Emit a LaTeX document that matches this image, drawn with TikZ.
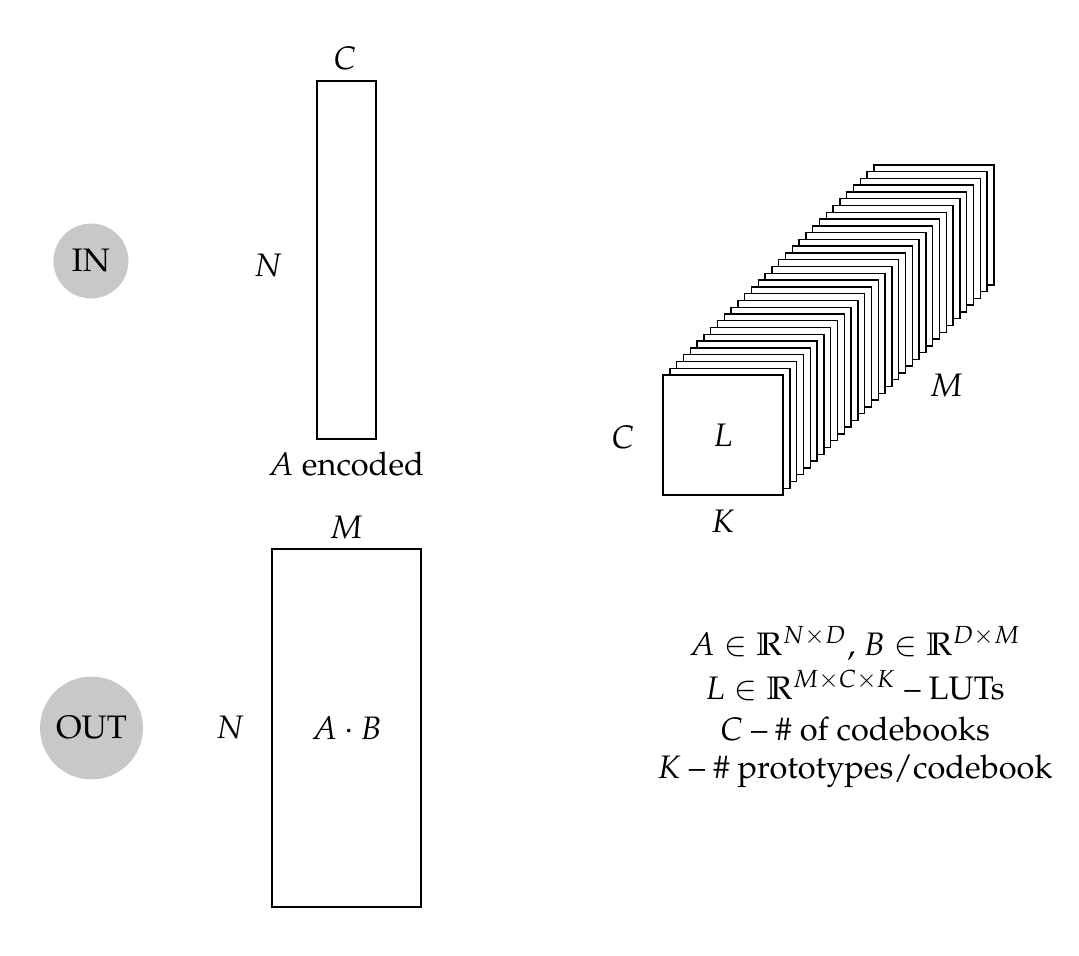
\documentclass[tikz,border=0pt]{standalone}
\usepackage[T1]{fontenc}
\usepackage{mathpazo}
\begin{document}
\begin{tikzpicture}[x=0.2857pt,y=-0.2857pt,font=\fontsize{9.3}{11.2}\selectfont]
\definecolor{circgray}{RGB}{200,200,200}
\tikzset{tok/.style={circle,fill=circgray,inner sep=0pt},
  box/.style={draw,inner sep=0pt},
  lut/.style={draw,fill=white,inner sep=0pt,minimum size=34.28pt}}
\useasboundingbox (0,0) rectangle (1079,956);
% IN / OUT
\node[tok,minimum size=21.4pt] (in) at (91,261) {IN};
\node[tok,minimum size=29.4pt] (out) at (91.5,728) {OUT};
% A encoded
\node[box,minimum width=16.86pt,minimum height=102.3pt] (aenc) at (346.5,260) {};
\node (aencC) at (345,58) {$C$};
\node (aencN) at (268,265) {$N$};
\node (aencL) at (346,464) {$A$ encoded};
% output
\node[box,minimum width=42.57pt,minimum height=102.3pt] (ab) at (346.5,728) {$A\cdot B$};
\node (abM) at (346,528) {$M$};
\node (abN) at (230,727) {$N$};
% LUT stack
\foreach \i in {31,30,...,0}
  \node[lut] (l\i) at ({723+6.8*\i},{435-6.78*\i}) {};
\node at (l0) {$L$};
\node (lC) at (623,437) {$C$};
\node (lK) at (723,521) {$K$};
\node (lM) at (946,386) {$M$};
% legend
\node[anchor=base] (t1) at (855,655) {$A\in\mathbb{R}^{N\times D}$, $B\in\mathbb{R}^{D\times M}$};
\node[anchor=base] (t2) at (855,699) {$L\in\mathbb{R}^{M\times C\times K}$ -- LUTs};
\node[anchor=base] (t3) at (855,740) {$C$ -- \# of codebooks};
\node[anchor=base] (t4) at (855,778) {$K$ -- \# prototypes/codebook};
\end{tikzpicture}
\end{document}
